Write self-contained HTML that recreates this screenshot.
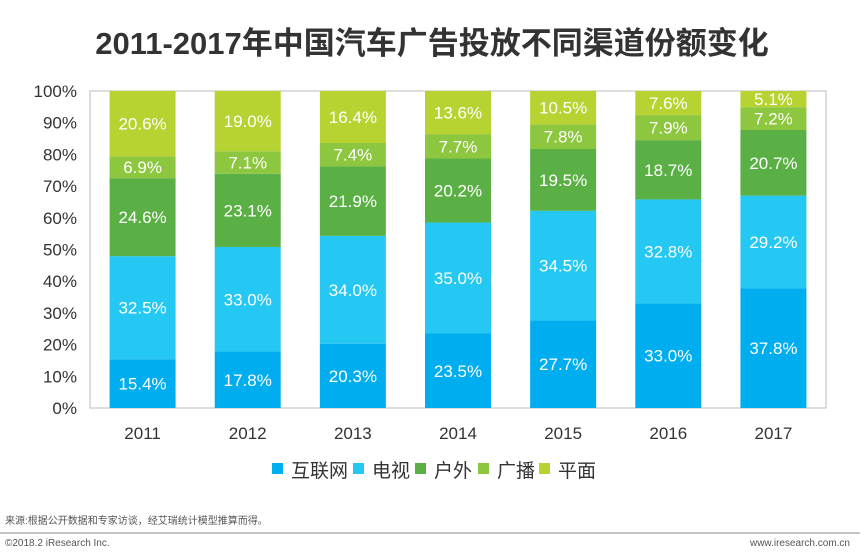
<!DOCTYPE html>
<html><head><meta charset="utf-8"><style>
body{margin:0;width:865px;height:553px;background:#fff;font-family:"Liberation Sans","Noto Sans CJK SC",sans-serif;overflow:hidden;position:relative}
</style></head><body>
<svg width="865" height="553" xmlns="http://www.w3.org/2000/svg" id="chart">
<text x="432" y="54" text-anchor="middle" font-size="31" font-weight="bold" fill="#333" font-family="Liberation Sans,Noto Sans CJK SC,sans-serif">2011-2017年中国汽车广告投放不同渠道份额变化</text>
<rect x="90" y="91" width="736" height="317" fill="none" stroke="#bbb"/>
<g id="yaxis"></g><g id="bars"></g><g id="xaxis"></g><g id="legend"></g>
<text x="5" y="524" font-size="10" fill="#555" font-family="Liberation Sans,Noto Sans CJK SC,sans-serif">来源:根据公开数据和专家访谈，经艾瑞统计模型推算而得。</text>
<line x1="0" y1="533" x2="860" y2="533" stroke="#888"/>
<text x="5" y="546" font-size="10" fill="#555">©2018.2 iResearch Inc.</text>
<text x="850" y="546" font-size="10" fill="#555" text-anchor="end">www.iresearch.com.cn</text>
</svg>
<script>
const years=["2011","2012","2013","2014","2015","2016","2017"];
const seriesNames=["互联网","电视","户外","广播","平面"];
const internet=[15.4,17.8,20.3,23.5,27.7,33.0,37.8];
const tv=[32.5,33.0,34.0,35.0,34.5,32.8,29.2];
const outdoor=[24.6,23.1,21.9,20.2,19.5,18.7,20.7];
const radio=[6.9,7.1,7.4,7.7,7.8,7.9,7.2];
const print=[20.6,19.0,16.4,13.6,10.5,7.6,5.1];
const yTicks=[0,10,20,30,40,50,60,70,80,90,100];
const series=[internet,tv,outdoor,radio,print];
const colors=["#00aeef","#25c8f2","#5bb045","#8dc63f","#b7d332"];
const NS="http://www.w3.org/2000/svg";
const L=90,T=91,W=736,H=317;
const y=v=>T+H-v/100*H;
const band=W/years.length;
const xc=i=>L+band*(i+0.5);
const bw=66;
function mk(tag,attrs,parent,txt){const e=document.createElementNS(NS,tag);for(const k in attrs)e.setAttribute(k,attrs[k]);if(txt!=null)e.textContent=txt;parent.appendChild(e);return e;}
const ya=document.getElementById('yaxis');
yTicks.forEach(t=>{const e=mk('text',{x:77,y:y(t)+6,'text-anchor':'end','font-size':17,fill:'#333'},ya,t+'%');

});
const bg=document.getElementById('bars');
years.forEach((yr,i)=>{let acc=0;
series.forEach((s,j)=>{const v=s[i];const top=Math.min(acc+v,100);
const r=mk('rect',{x:xc(i)-bw/2,y:y(top),width:bw,height:y(acc)-y(top),fill:colors[j]},bg);


const tx=mk('text',{x:xc(i),y:(y(acc)+y(top))/2+6,'text-anchor':'middle','font-size':17,fill:'#fff'},bg,v.toFixed(1)+'%');


acc=top;});
const xl=mk('text',{x:xc(i),y:439,'text-anchor':'middle','font-size':17,fill:'#333'},document.getElementById('xaxis'),yr);

});
const lg=document.getElementById('legend');
const lx=[272,353,415,478,539];
seriesNames.forEach((n,j)=>{const g=mk('g',{},lg);


mk('rect',{x:lx[j],y:463,width:11,height:11,fill:colors[j]},g);
mk('text',{x:lx[j]+19,y:477,'font-size':19,fill:'#333','font-family':'Liberation Sans,Noto Sans CJK SC,sans-serif'},g,n);});
</script>
</body></html>
